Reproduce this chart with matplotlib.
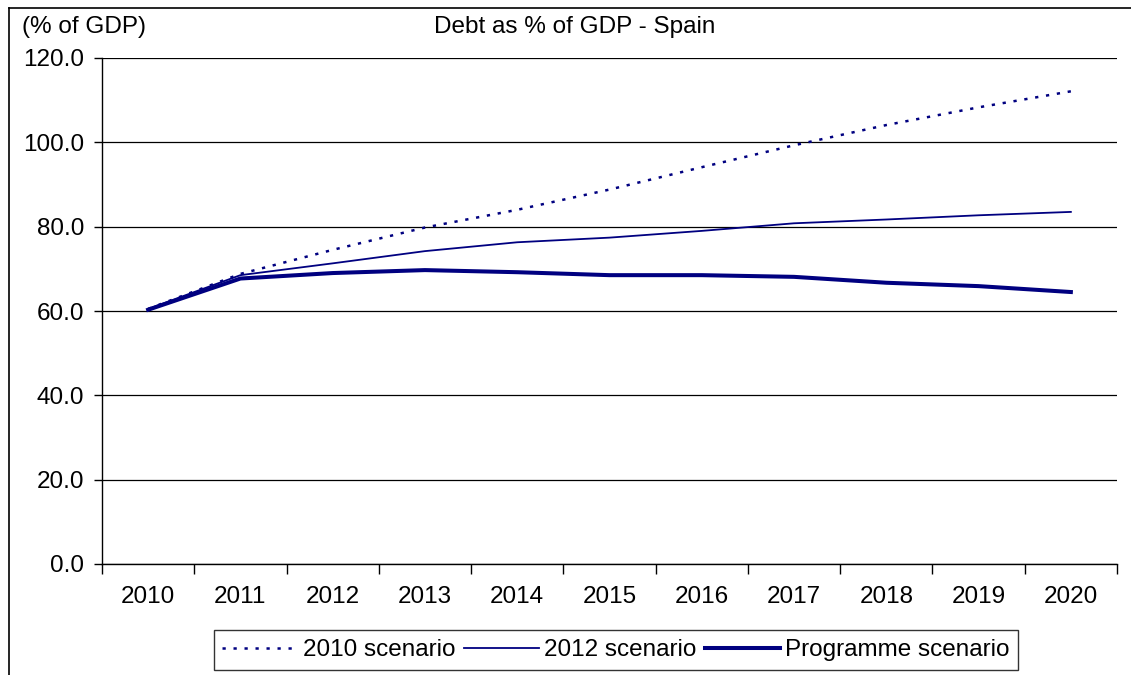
import matplotlib.pyplot as plt
from matplotlib.lines import Line2D
from matplotlib.ticker import FixedLocator, FormatStrFormatter
import numpy as np

plt.rcParams['font.family'] = ['Liberation Sans', 'DejaVu Sans']

# data
years = ['2010', '2011', '2012', '2013', '2014', '2015',
         '2016', '2017', '2018', '2019', '2020']
scen_2010 = [60.5, 68.8, 74.5, 79.8, 84.0, 88.8, 94.1, 99.3, 104.1, 108.3, 112.1]
scen_2012 = [60.5, 68.5, 71.3, 74.2, 76.3, 77.4, 79.0, 80.8, 81.7, 82.7, 83.5]
programme = [60.3, 67.7, 69.0, 69.7, 69.2, 68.5, 68.5, 68.1, 66.7, 65.9, 64.5]

navy = '#000080'
fs = 17.5

fig = plt.figure(figsize=(11.31, 6.75), dpi=100)
ax = fig.add_axes([102/1131, 1 - 564/675, (1117 - 102)/1131, (564 - 58)/675])

x = np.arange(len(years))
ax.plot(x, programme, color=navy, lw=2.9, label='Programme scenario')
ax.plot(x, scen_2012, color=navy, lw=1.3, label='2012 scenario')
ax.plot(x, scen_2010, color=navy, lw=1.8, ls=(0, (1.3, 3.1)), label='2010 scenario')

ax.set_xlim(-0.5, len(years) - 0.5)
ax.set_ylim(0, 120)
ax.set_yticks(np.arange(0, 121, 20))
ax.yaxis.set_major_formatter(FormatStrFormatter('%.1f'))
ax.grid(axis='y', color='black', lw=0.9)
ax.set_axisbelow(True)

ax.set_xticks(x)
ax.set_xticklabels(years)
ax.xaxis.set_minor_locator(FixedLocator(np.arange(-0.5, len(years), 1)))
ax.tick_params(axis='x', which='major', length=0, pad=16, labelsize=fs)
ax.tick_params(axis='x', which='minor', length=7, width=1, color='black')
ax.tick_params(axis='y', length=6, width=1, pad=7, labelsize=fs)

for s in ['top', 'right']:
    ax.spines[s].set_visible(False)
for s in ['left', 'bottom']:
    ax.spines[s].set_color('black')
    ax.spines[s].set_linewidth(1)

# outer chart frame (cropped at right and bottom)
fig.add_artist(Line2D([9/1131, 1], [1 - 8/675, 1 - 8/675], color='black', lw=1.2))
fig.add_artist(Line2D([9/1131, 9/1131], [0, 1 - 8/675], color='black', lw=1.2))

fig.text(22/1131, 1 - 27/675, '(% of GDP)', fontsize=fs, va='center', ha='left')
fig.text(575/1131, 1 - 27/675, 'Debt as % of GDP - Spain', fontsize=fs,
         va='center', ha='center')

h, l = ax.get_legend_handles_labels()
order = [2, 1, 0]
leg = fig.legend([h[i] for i in order], [l[i] for i in order], ncol=3,
                 loc='center', bbox_to_anchor=(616/1131, 1 - 650/675),
                 fontsize=fs, frameon=True, fancybox=False, edgecolor='black',
                 handlelength=3.1, handletextpad=0.2, columnspacing=0.35,
                 borderpad=0.35, borderaxespad=0)
leg.get_frame().set_linewidth(1)

fig.savefig('out.png', dpi=100)
